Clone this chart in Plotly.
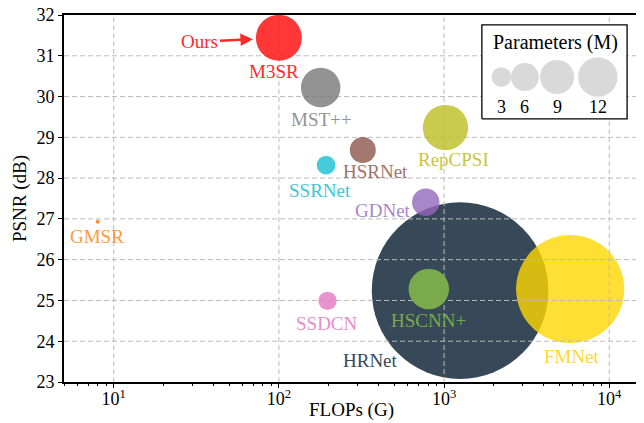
import numpy as np
import plotly.graph_objects as go

# ---------------- data ----------------
models = ["HRNet", "FMNet", "M3SR", "MST++", "SSRNet", "HSRNet", "RepCPSI",
          "GDNet", "GMSR", "SSDCN", "HSCNN+"]
flops_g = [1250, 5800, 100, 179, 193, 322, 1020, 775, 8, 197, 808]
psnr_db = [25.24, 25.28, 31.44, 30.22, 28.32, 28.69, 29.24, 27.41, 26.93, 24.99, 25.28]
params_m = [240, 90, 16.3, 12.0, 2.7, 5.2, 15.8, 5.8, 0.12, 2.6, 12.6]

legend_params = [3, 6, 9, 12]
x_tick_vals = [10, 100, 1000, 10000]
x_tick_text = ["10<sup>1</sup>", "10<sup>2</sup>", "10<sup>3</sup>", "10<sup>4</sup>"]
y_tick_vals = list(range(23, 33))

# ---------------- styles ----------------
FONT = "Liberation Serif, Times New Roman, serif"
marker_colors = {
    "HRNet": "rgba(44,62,80,0.95)",
    "FMNet": "rgba(255,215,0,0.8)",
    "M3SR": "rgba(255,20,20,0.85)",
    "MST++": "rgba(120,120,120,0.8)",
    "SSRNet": "rgba(23,190,207,0.8)",
    "HSRNet": "rgba(140,86,75,0.8)",
    "RepCPSI": "rgba(188,189,34,0.8)",
    "GDNet": "rgba(148,103,189,0.8)",
    "GMSR": "rgba(255,127,14,0.9)",
    "SSDCN": "rgba(227,119,194,0.8)",
    "HSCNN+": "rgba(122,171,74,1)",
}
label_colors = {
    "HRNet": "#34495a", "FMNet": "#ffd92a", "M3SR": "#ff2a2a", "MST++": "#939393",
    "SSRNet": "#3cc8d6", "HSRNet": "#a0736a", "RepCPSI": "#c9c63e",
    "GDNet": "#a985ca", "GMSR": "#ff9a40", "SSDCN": "#e68ccb", "HSCNN+": "#78aa4a",
}
# label offsets in pixels (dx right, dy down) relative to bubble centre
label_offsets = {
    "M3SR": (-5, 34), "MST++": (1, 32), "SSRNet": (-6, 25), "HSRNet": (13, 22),
    "RepCPSI": (8, 32), "GDNet": (-43, 8), "GMSR": (-1, 15), "SSDCN": (-1, 23),
    "HSCNN+": (0, 31), "HRNet": (-90, 70), "FMNet": (2, 67),
}
SIZEREF = 2.0 / 130.0
X_RANGE = [np.log10(5), 4.174]
Y_RANGE = [23, 32]

fig = go.Figure()

def add_bubble(name):
    i = models.index(name)
    fig.add_trace(go.Scatter(
        x=[flops_g[i]], y=[psnr_db[i]], mode="markers", name=name,
        marker=dict(size=[params_m[i]], sizemode="area", sizeref=SIZEREF, opacity=1,
                    color=marker_colors[name], line=dict(width=0)),
        hoverinfo="skip", showlegend=False, cliponaxis=False))

# large background bubbles (grid is drawn over them)
for name in ["HRNet", "FMNet"]:
    add_bubble(name)

# dashed grid built from tick values
gx, gy = [], []
for v in x_tick_vals:
    gx += [v, v, None]
    gy += [Y_RANGE[0], Y_RANGE[1], None]
for v in y_tick_vals[1:-1]:
    gx += [10 ** X_RANGE[0], 10 ** X_RANGE[1], None]
    gy += [v, v, None]
fig.add_trace(go.Scatter(x=gx, y=gy, mode="lines", hoverinfo="skip", showlegend=False,
                         line=dict(color="#bcbcbc", width=1, dash="5px,3px")))

for name in ["GDNet", "HSCNN+", "SSDCN", "GMSR", "SSRNet", "HSRNet", "RepCPSI",
             "MST++", "M3SR"]:
    add_bubble(name)

# model labels
for i, name in enumerate(models):
    dx, dy = label_offsets[name]
    fig.add_annotation(x=np.log10(flops_g[i]), y=psnr_db[i], xref="x", yref="y",
                       text=name, showarrow=False, xshift=dx, yshift=-dy,
                       xanchor="center", yanchor="middle",
                       font=dict(family=FONT, size=19, color=label_colors[name]))

# "Ours" arrow
i3 = models.index("M3SR")
fig.add_annotation(x=np.log10(flops_g[i3]), y=psnr_db[i3], xref="x", yref="y",
                   text="Ours", showarrow=True, ax=-79, ay=4, axref="pixel", ayref="pixel",
                   arrowhead=2, arrowsize=1, arrowwidth=2.5, arrowcolor="#ff2a2a",
                   standoff=26, font=dict(family=FONT, size=19, color="#ff2a2a"))

# size legend (on overlay axes spanning the plot area, 0..1)
bx0, bx1, by0, by1 = 0.728, 0.981, 0.717, 0.973
fig.add_trace(go.Scatter(x=[bx0, bx1, bx1, bx0, bx0], y=[by0, by0, by1, by1, by0],
                         xaxis="x2", yaxis="y2", mode="lines", fill="toself",
                         fillcolor="white", line=dict(color="black", width=1.3),
                         hoverinfo="skip", showlegend=False))
leg_x = [0.762, 0.803, 0.859, 0.930]
fig.add_trace(go.Scatter(x=leg_x, y=[0.831] * 4, xaxis="x2", yaxis="y2", mode="markers",
                         marker=dict(size=legend_params, sizemode="area", sizeref=SIZEREF,
                                     opacity=1, color="#d9d9d9", line=dict(width=0)),
                         hoverinfo="skip", showlegend=False))
for xv, p in zip(leg_x, legend_params):
    fig.add_annotation(x=xv, y=0.749, xref="paper", yref="paper", text=str(p),
                       showarrow=False, xanchor="center", yanchor="middle",
                       font=dict(family=FONT, size=18, color="black"))
fig.add_annotation(x=0.857, y=0.926, xref="paper", yref="paper", text="Parameters (M)",
                   showarrow=False, xanchor="center", yanchor="middle",
                   font=dict(family=FONT, size=20, color="black"))

# x-axis title placed as an annotation just under the tick labels
fig.add_annotation(x=0.5, y=0, xref="paper", yref="paper", text="FLOPs (G)",
                   showarrow=False, xanchor="center", yanchor="middle", yshift=-28,
                   font=dict(family=FONT, size=19, color="black"))

# the page adds an 8px body margin, so margins are offset by 8px
fig.update_layout(
    template="none",
    width=644, height=423,
    margin=dict(l=56, r=14, t=7, b=49, autoexpand=False),
    paper_bgcolor="white", plot_bgcolor="white",
    font=dict(family=FONT, size=18, color="black"),
    showlegend=False,
    xaxis=dict(type="log", range=X_RANGE, tickvals=x_tick_vals, ticktext=x_tick_text,
               showgrid=False, zeroline=False, showline=True, mirror=True,
               automargin=False, ticklabeloverflow="allow",
               linecolor="black", linewidth=1.6, ticks="outside", ticklen=4,
               tickcolor="black", tickfont=dict(size=18), ticklabelstandoff=-4,
               minor=dict(dtick="D1", ticks="outside", ticklen=2.5, tickcolor="black",
                          showgrid=False)),
    yaxis=dict(range=Y_RANGE, tickvals=y_tick_vals, showgrid=False, zeroline=False,
               automargin=False, ticklabeloverflow="allow",
               showline=True, mirror=True, linecolor="black", linewidth=1.6,
               ticks="outside", ticklen=4, tickcolor="black", tickfont=dict(size=18),
               title=dict(text="PSNR (dB)", font=dict(size=19), standoff=5)),
    xaxis2=dict(overlaying="x", range=[0, 1], visible=False, fixedrange=True),
    yaxis2=dict(overlaying="y", range=[0, 1], visible=False, fixedrange=True),
)

fig.write_html("out.html")
